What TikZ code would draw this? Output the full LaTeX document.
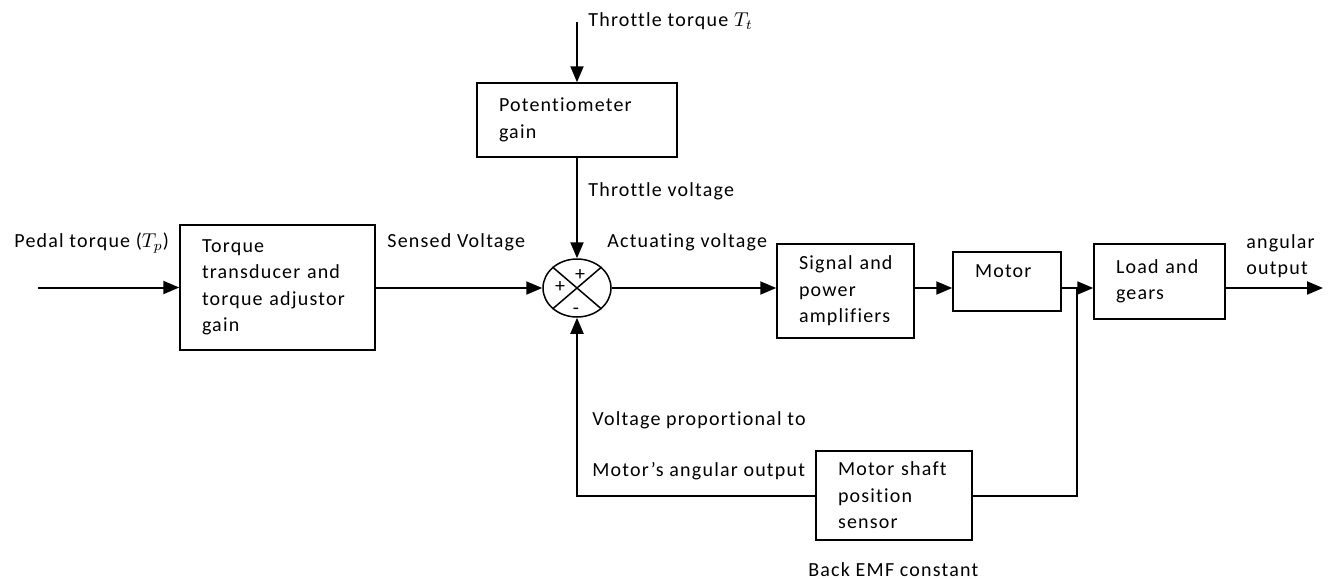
\documentclass[tikz,border=0pt]{standalone}
\usepackage{fontspec}
\setmainfont{Carlito}[LetterSpace=6, Ligatures=CommonOff]
\usetikzlibrary{arrows.meta,shapes.geometric}

\begin{document}
\begin{tikzpicture}[
  x=0.5pt, y=-0.5pt,
  font=\fontsize{10pt}{13.25pt}\selectfont,
  >={Triangle[length=8pt,width=6.5pt]},
  block/.style={rectangle, draw, line width=0.75pt, align=left, inner xsep=11pt, inner ysep=2pt},
  sumpt/.style={ellipse, draw, line width=0.75pt, minimum width=34pt, minimum height=29pt, inner sep=0pt},
  lbl/.style={anchor=base west, inner sep=0pt},
  sgn/.style={font=\fontsize{10pt}{11pt}\selectfont, inner sep=0pt},
  arrow/.style={->, line width=1pt},
  line/.style={line width=1pt}
]
\useasboundingbox (0,0) rectangle (1330,579);
\node[block, text width=75.5pt, minimum height=62.5pt] (tt) at (277.5,287.5) {Torque\\transducer~and\\torque~adjustor\\gain};
\node[block, text width=78pt, minimum height=37pt] (pot) at (577,120) {Potentiometer\\gain};
\node[sumpt] (sum) at (577,288) {};
\node[block, text width=46.5pt, minimum height=47pt] (sig) at (845.5,291) {Signal~and\\power\\amplifiers};
\node[block, text width=32pt, minimum height=29.5pt, text depth=10.5pt] (mot) at (1007,281.5) {Motor};
\node[block, text width=43.5pt, minimum height=37.5pt] (load) at (1159.5,281.5) {Load~and\\gears};
\node[block, text width=56pt, minimum height=44.5pt] (sen) at (894,495.5) {Motor~shaft\\position\\sensor};
% signs on the summing point
\node[sgn] (plustop) at (580,275) {+};
\node[sgn] (plusleft) at (560,287) {+};
\node[sgn] (minus) at (576,311) {-};
% signal names
\node[lbl] (pedal) at (14,247) {Pedal torque ($T_p$)};
\node[lbl] (thrt) at (588,26) {Throttle torque $T_t$};
\node[lbl] (thrv) at (588,196) {Throttle voltage};
\node[lbl] (sensv) at (387,247) {Sensed Voltage};
\node[lbl] (actv) at (607,247) {Actuating voltage};
\node[anchor=west, align=left, inner sep=0pt] (angout) at (1246,256) {angular\\output};
\node[lbl] (vprop) at (592,425) {Voltage proportional to};
\node[lbl] (mang) at (592,476) {Motor’s angular output};
\node[lbl] (bemf) at (808,576) {Back EMF constant};
\coordinate (in) at (38,287.5);
\coordinate (thr) at (577,22);
\coordinate (br) at (1077,288);
\coordinate (out) at (1323,288);
\draw[line width=0.75pt] (sum.north east) -- (sum.south west) (sum.north west) -- (sum.south east);
\draw[arrow] (in) -- (tt);
\draw[arrow] (tt.east |- sum) -- (sum.west);
\draw[arrow] (thr) -- (pot);
\draw[arrow] (pot) -- (sum);
\draw[arrow] (sum) -- (sig.west |- sum);
\draw[arrow] (sig.east |- sum) -- (mot.west |- sum);
\draw[arrow] (mot.east |- sum) -- (load.west |- sum);
\draw[arrow] (load.east |- sum) -- (out);
\draw[line] (br) |- (sen.east);
\draw[arrow] (sen.west) -| (sum.south);
\end{tikzpicture}
\end{document}
